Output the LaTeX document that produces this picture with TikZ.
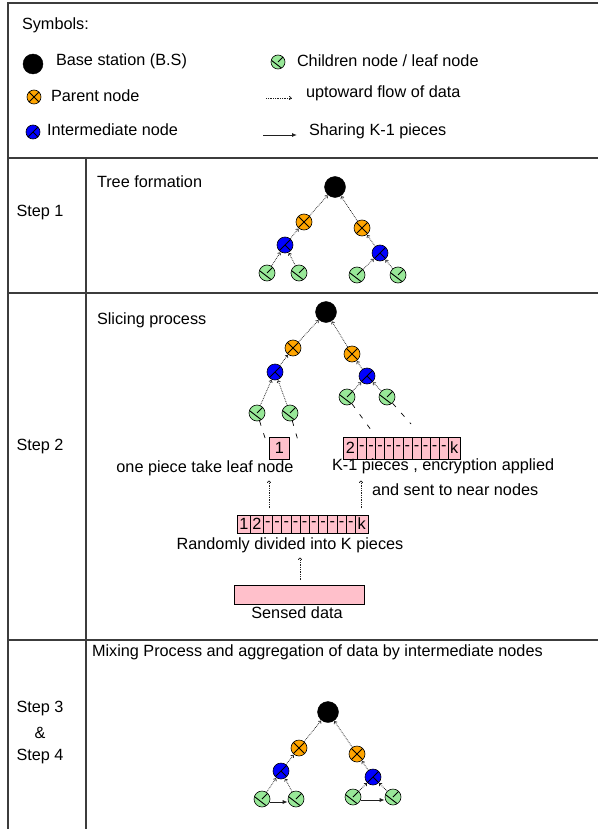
\documentclass[tikz,border=0pt]{standalone}
\usepackage{fontspec}
\setmainfont{Liberation Sans}
\usetikzlibrary{arrows.meta}

\definecolor{rulegray}{HTML}{3C3C3C}
\definecolor{parentorange}{HTML}{FFA500}
\definecolor{interblue}{HTML}{0000FF}
\definecolor{leafgreen}{HTML}{98E898}
\definecolor{slicepink}{HTML}{FFC0CB}
\definecolor{flowgray}{HTML}{202020}

\tikzset{
  lbl/.style={font=\fontsize{16.25}{19}\selectfont, inner sep=0pt, outer sep=0pt},
  glyphline/.style={line width=0.9pt},
  sensor/.style={circle, draw=black, line width=0.6pt, minimum size=16pt, inner sep=0pt},
  bsnode/.style={circle, draw=black, fill=black, minimum size=21pt, inner sep=0pt},
  parnode/.style={sensor, fill=parentorange,
    path picture={\draw[glyphline] (path picture bounding box.north west) -- (path picture bounding box.south east)
                              (path picture bounding box.north east) -- (path picture bounding box.south west);}},
  intnode/.style={sensor, fill=interblue,
    path picture={\draw[glyphline] (path picture bounding box.north east) -- (path picture bounding box.south west)
                              (path picture bounding box.center) -- (path picture bounding box.south east);}},
  leafnode/.style={sensor, fill=leafgreen,
    path picture={\draw[glyphline] (path picture bounding box.center) -- (path picture bounding box.north east)
       ([shift={(160:9pt)}]path picture bounding box.center) -- ([shift={(305:9pt)}]path picture bounding box.center);}},
  keysize/.style={minimum size=14pt},
  upflow/.style={draw=flowgray, line width=0.75pt, densely dotted, -{To[length=2.5pt,width=4pt]}, shorten >=0.5pt},
  share/.style={draw=flowgray, line width=0.9pt, -{Latex[length=5pt,width=4pt]}},
  leadline/.style={draw=black, line width=0.7pt, dash pattern=on 5pt off 8pt},
  cell/.style={draw=black, fill=slicepink, line width=0.6pt, inner sep=0pt, anchor=west,
    font=\fontsize{16.25}{19}\selectfont},
  rule/.style={draw=rulegray, line width=1.2pt},
}

\begin{document}
\begin{tikzpicture}[x=1pt,y=-1pt]
\useasboundingbox (0,0) rectangle (598,829);

% table frame
\draw[rule] (598,3) -- (8,3) -- (8,829);
\draw[rule] (8,158) -- (598,158);
\draw[rule] (8,293) -- (598,293);
\draw[rule] (8,640) -- (598,640);
\draw[rule] (86,158) -- (86,829);

% legend
\node[lbl, anchor=west] (symt) at (22,25) {Symbols:};
\node[bsnode, minimum size=20pt] (kbs) at (33,64) {};
\node[lbl, anchor=west] (kbst) at (56,61) {Base station (B.S)};
\node[parnode, keysize] (kpar) at (34,97) {};
\node[lbl, anchor=west] (kpart) at (51,96) {Parent node};
\node[intnode, keysize] (kint) at (33,132) {};
\node[lbl, anchor=west] (kintt) at (47,130) {Intermediate node};
\node[leafnode, keysize] (kleaf) at (278,62) {};
\node[lbl, anchor=west] (kleaft) at (297,61) {Children node / leaf node};
\coordinate (kf0) at (266,98);
\coordinate (kf1) at (292,98);
\draw[upflow] (kf0) -- (kf1);
\node[lbl, anchor=west] (kflowt) at (306,93) {uptoward flow of data};
\coordinate (ks0) at (263,135);
\coordinate (ks1) at (297,135);
\draw[share] (ks0) -- (ks1);
\node[lbl, anchor=west] (kshart) at (309,131) {Sharing K-1 pieces};

% step 1: tree formation
\node[lbl] (st1) at (40,213) {Step 1};
\node[lbl, anchor=west] (t1) at (97,182) {Tree formation};
\node[bsnode] (abs) at (335,187) {};
\node[parnode] (apl) at (304,222) {};
\node[parnode] (apr) at (362,228) {};
\node[intnode] (ail) at (285,245) {};
\node[intnode] (air) at (380,253) {};
\node[leafnode] (all) at (267,273) {};
\node[leafnode] (alr) at (299,273) {};
\node[leafnode] (arl) at (357,275) {};
\node[leafnode] (arr) at (398,275) {};
\draw[upflow] (all) -- (ail);
\draw[upflow] (alr) -- (ail);
\draw[upflow] (ail) -- (apl);
\draw[upflow] (apl) -- (abs);
\draw[upflow] (arl) -- (air);
\draw[upflow] (arr) -- (air);
\draw[upflow] (air) -- (apr);
\draw[upflow] (apr) -- (abs);

% step 2: slicing process
\node[lbl] (st2) at (40,447) {Step 2};
\node[lbl, anchor=west] (t2) at (97,320) {Slicing process};
\node[bsnode] (bbs) at (326,312) {};
\node[parnode] (bpl) at (293,348) {};
\node[parnode] (bpr) at (352,354) {};
\node[intnode] (bil) at (275,372) {};
\node[intnode] (bir) at (367,376) {};
\node[leafnode] (bll) at (257,413) {};
\node[leafnode] (blr) at (290,413) {};
\node[leafnode] (brl) at (347,397) {};
\node[leafnode] (brr) at (387,397) {};
\draw[upflow] (bll) -- (bil);
\draw[upflow] (blr) -- (bil);
\draw[upflow] (bil) -- (bpl);
\draw[upflow] (bpl) -- (bbs);
\draw[upflow] (brl) -- (bir);
\draw[upflow] (brr) -- (bir);
\draw[upflow] (bir) -- (bpr);
\draw[upflow] (bpr) -- (bbs);

% pieces handed to the leaves
\coordinate (dll) at (267,444);
\coordinate (dlr) at (299,444);
\coordinate (drl) at (374,434);
\coordinate (drr) at (411,424);
\draw[leadline] (bll) -- (dll);
\draw[leadline] (blr) -- (dlr);
\draw[leadline] (brl) -- (drl);
\draw[leadline] (brr) -- (drr);

\node[cell, minimum width=20pt, minimum height=22pt] (one) at (269,448) {1};
\node[cell, minimum width=14pt, minimum height=22pt] (rest0) at (343,448) {2};
\foreach \i in {1,...,10} {
  \node[cell, minimum width=9.1pt, minimum height=22pt] (rest\i) at ({357+9.1*(\i-1)},448) {-};
}
\node[cell, minimum width=12pt, minimum height=22pt] (restk) at (448,448) {k};

\node[lbl] (onet) at (205,468) {one piece take leaf node};
\node[lbl, anchor=west] (restt) at (332,466) {K-1 pieces , encryption applied};
\node[lbl, anchor=west] (restt2) at (372,490) {and sent to near nodes};

% the sensed data split into k pieces
\node[cell, minimum width=13pt, minimum height=18pt] (pa) at (237,524) {1};
\node[cell, minimum width=13pt, minimum height=18pt] (pb) at (250,524) {2};
\foreach \i in {1,...,10} {
  \node[cell, minimum width=9.2pt, minimum height=18pt] (pd\i) at ({263+9.2*(\i-1)},524) {-};
}
\node[cell, minimum width=13pt, minimum height=18pt] (pk) at (355,524) {k};
\node[lbl] (splitt) at (290,545) {Randomly divided into K pieces};

\node[cell, anchor=center, minimum width=130pt, minimum height=19pt] (sensed) at (299,594.5) {};
\node[lbl] (sensedt) at (297,613) {Sensed data};

\coordinate (ua0) at (269,508);
\coordinate (ua1) at (269,480);
\coordinate (ub0) at (361,508);
\coordinate (ub1) at (361,480);
\coordinate (uc0) at (300,580);
\coordinate (uc1) at (300,557);
\draw[upflow] (ua0) -- (ua1);
\draw[upflow] (ub0) -- (ub1);
\draw[upflow] (uc0) -- (uc1);

% steps 3 and 4: mixing and aggregation
\node[lbl] (st3) at (40,709) {Step 3};
\node[lbl] (amp) at (40,733) {\&};
\node[lbl] (st4) at (40,757) {Step 4};
\node[lbl, anchor=west] (t3) at (92,652) {Mixing Process and aggregation of data by intermediate nodes};
\node[bsnode] (cbs) at (328,712) {};
\node[parnode] (cpl) at (299,748) {};
\node[parnode] (cpr) at (357,754) {};
\node[intnode] (cil) at (281,771) {};
\node[intnode] (cir) at (373,777) {};
\node[leafnode] (cll) at (262,799) {};
\node[leafnode] (clr) at (296,799) {};
\node[leafnode] (crl) at (353,797) {};
\node[leafnode] (crr) at (393,797) {};
\draw[upflow] (cll) -- (cil);
\draw[upflow] (clr) -- (cil);
\draw[upflow] (cil) -- (cpl);
\draw[upflow] (cpl) -- (cbs);
\draw[upflow] (crl) -- (cir);
\draw[upflow] (crr) -- (cir);
\draw[upflow] (cir) -- (cpr);
\draw[upflow] (cpr) -- (cbs);
\draw[share] ([yshift=-3pt]cll.east) -- ([yshift=-3pt]clr.west);
\draw[share] ([yshift=-3pt]crl.east) -- ([yshift=-3pt]crr.west);
\end{tikzpicture}
\end{document}
